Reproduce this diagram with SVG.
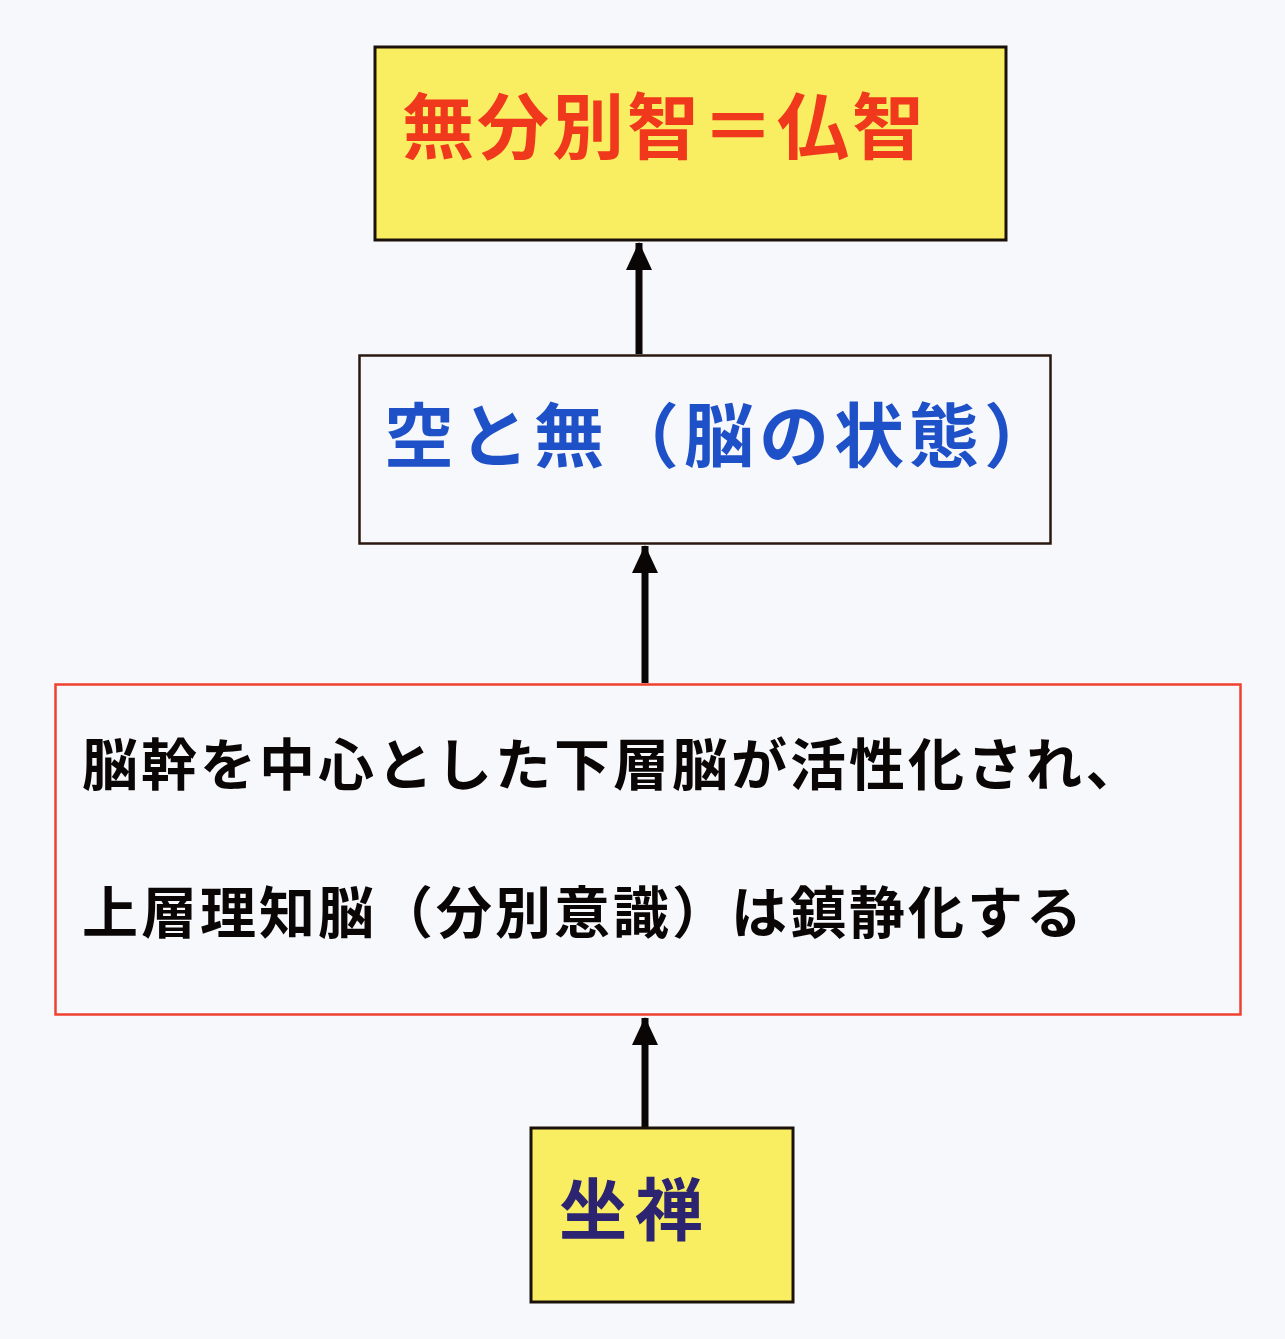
<svg xmlns="http://www.w3.org/2000/svg" width="1285" height="1339" viewBox="0 0 1285 1339">
<style>
.t{font-family:"Noto Sans CJK JP","Noto Sans CJK SC",sans-serif;font-weight:bold}
.yel{fill:#f9ee62;stroke:#1a120a;stroke-width:3}
.conn{stroke:#0a0606;stroke-width:7;fill:none}
</style>
<defs>
<marker id="ah" markerUnits="userSpaceOnUse" markerWidth="28" markerHeight="30" refX="27" refY="14" orient="auto">
<path d="M0,1 L28,14 L0,27 Z" fill="#0a0606"/>
</marker>
</defs>
<rect width="1285" height="1339" fill="#f7f8fc"/>
<g id="connectors">
<line class="conn" x1="639" y1="354" x2="639" y2="243" marker-end="url(#ah)"/>
<line class="conn" x1="645" y1="683" x2="645" y2="546" marker-end="url(#ah)"/>
<line class="conn" x1="645" y1="1127" x2="645" y2="1018" marker-end="url(#ah)"/>
</g>
<g id="node-top">
<rect class="yel" x="375" y="47" width="631" height="193"/>
<text class="t" x="402" y="153" font-size="72" letter-spacing="3" fill="#f0381c">無分別智＝仏智</text>
</g>
<g id="node-middle">
<rect x="359.5" y="355.5" width="691" height="188" fill="#f7f8fc" stroke="#2a1810" stroke-width="2.5"/>
<text class="t" x="384" y="462" font-size="70" letter-spacing="5" fill="#1e50c8">空と無（脳の状態）</text>
</g>
<g id="node-brain">
<rect x="55.5" y="684.5" width="1185" height="330" fill="#f7f8fc" stroke="#f04030" stroke-width="2.5"/>
<text class="t" x="82" y="785" font-size="56" letter-spacing="3" fill="#0a0606">脳幹を中心とした下層脳が活性化され、</text>
<text class="t" x="82" y="933" font-size="56" letter-spacing="3" fill="#0a0606">上層理知脳（分別意識）は鎮静化する</text>
</g>
<g id="node-zazen">
<rect class="yel" x="531" y="1128" width="262" height="174"/>
<text class="t" x="559" y="1235" font-size="68" letter-spacing="8" fill="#2c2470">坐禅</text>
</g>
</svg>
